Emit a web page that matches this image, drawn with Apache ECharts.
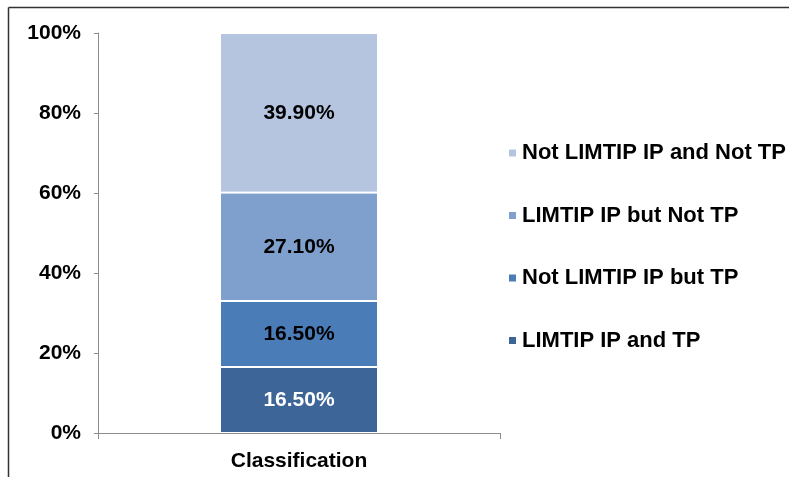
<!DOCTYPE html>
<html>
<head>
<meta charset="utf-8">
<script src="https://cdn.jsdelivr.net/npm/echarts@6/dist/echarts.min.js"></script>
<style>
  html, body { margin: 0; padding: 0; background: #fff; }
  #chart { width: 789px; height: 477px; }
</style>
</head>
<body>
<div id="chart"></div>
<script>
const categories = ['Classification'];
const seriesNames = ['LIMTIP IP and TP', 'Not LIMTIP IP but TP', 'LIMTIP IP but Not TP', 'Not LIMTIP IP and Not TP'];
const seriesValues = [[16.5], [16.5], [27.1], [39.9]];
const seriesColors = ['#3D6597', '#4A7CB8', '#7F9FCC', '#B5C4DF'];
const labelColors = ['#ffffff', '#000000', '#000000', '#000000'];

const chart = echarts.init(document.getElementById('chart'));
const font = 'Liberation Sans, Arial, sans-serif';

chart.setOption({
  animation: false,
  textStyle: { fontFamily: font },
  graphic: [
    { type: 'line', shape: { x1: 8.5, y1: 7.5, x2: 789, y2: 7.5 }, style: { stroke: '#333', lineWidth: 1.5 } },
    { type: 'line', shape: { x1: 8.5, y1: 7.5, x2: 8.5, y2: 477 }, style: { stroke: '#333', lineWidth: 1.5 } }
  ],
  grid: { left: 98, top: 33, width: 402, height: 400 },
  legend: {
    orient: 'vertical',
    left: 502,
    top: 137,
    itemWidth: 9,
    itemHeight: 9,
    itemGap: 40.5,
    icon: 'rect',
    data: seriesNames.slice().reverse(),
    textStyle: { fontSize: 22, lineHeight: 22, fontWeight: 'bold', color: '#000', fontFamily: font }
  },
  xAxis: {
    type: 'category',
    data: categories,
    axisLine: { lineStyle: { color: '#8c8c8c' } },
    axisTick: { show: true, length: 6, lineStyle: { color: '#8c8c8c' } },
    axisLabel: { fontSize: 21, fontWeight: 'bold', color: '#000', margin: 18 }
  },
  yAxis: {
    type: 'value',
    min: 0,
    max: 100,
    interval: 20,
    axisLine: { show: true, lineStyle: { color: '#8c8c8c' } },
    axisTick: { show: true, length: 4, lineStyle: { color: '#8c8c8c' } },
    splitLine: { show: false },
    axisLabel: { fontSize: 21, fontWeight: 'bold', color: '#000', margin: 17, formatter: '{value}%' }
  },
  series: seriesNames.map((name, i) => ({
    name,
    type: 'bar',
    stack: 'total',
    data: seriesValues[i],
    barWidth: 158,
    itemStyle: { color: seriesColors[i], borderColor: '#fff', borderWidth: 1 },
    label: {
      show: true,
      position: 'inside',
      fontSize: 21,
      fontWeight: 'bold',
      color: labelColors[i],
      formatter: p => p.value.toFixed(2) + '%'
    }
  }))
});
</script>
</body>
</html>
